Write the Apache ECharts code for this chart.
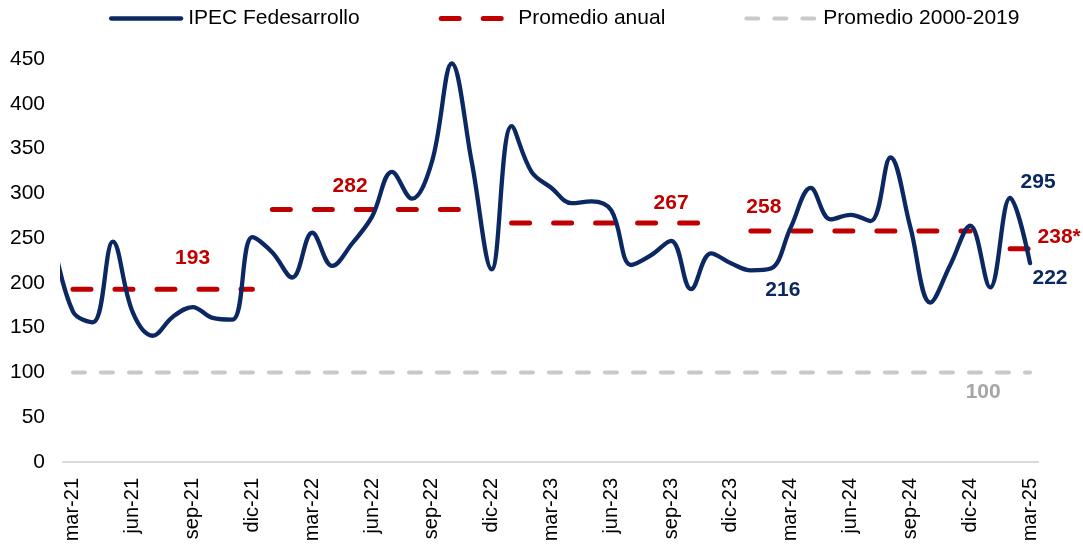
<!DOCTYPE html>
<html>
<head>
<meta charset="utf-8">
<script src="https://cdn.jsdelivr.net/npm/echarts@6/dist/echarts.min.js"></script>
<style>
  html, body { margin: 0; padding: 0; background: #ffffff; }
  #chart { width: 1083px; height: 545px; }
</style>
</head>
<body>
<div id="chart"></div>
<script>
// ---------- DATA ----------
const meses = [
  'feb-21','mar-21','abr-21','may-21','jun-21','jul-21','ago-21','sep-21','oct-21','nov-21','dic-21',
  'ene-22','feb-22','mar-22','abr-22','may-22','jun-22','jul-22','ago-22','sep-22','oct-22','nov-22','dic-22',
  'ene-23','feb-23','mar-23','abr-23','may-23','jun-23','jul-23','ago-23','sep-23','oct-23','nov-23','dic-23',
  'ene-24','feb-24','mar-24','abr-24','may-24','jun-24','jul-24','ago-24','sep-24','oct-24','nov-24','dic-24',
  'ene-25','feb-25','mar-25'
];
const ipec = [
  250, 168, 156, 246, 167, 141, 162, 173, 161, 159, 251,
  234, 206, 256, 219, 244, 274, 324, 294, 335, 445, 335, 215,
  375, 324, 306, 289, 291, 281, 220, 231, 247, 193, 233, 222,
  214, 216, 262, 306, 271, 276, 269, 340, 262, 178, 220, 264,
  195, 295, 222
];
const etiquetasEje = ['mar-21','jun-21','sep-21','dic-21','mar-22','jun-22','sep-22','dic-22',
  'mar-23','jun-23','sep-23','dic-23','mar-24','jun-24','sep-24','dic-24','mar-25'];
const anualValores = [193, 282, 267, 258, 238];
const anualDesde   = ['mar-21', 'ene-22', 'ene-23', 'ene-24', 'feb-25'];
const anualHasta   = ['dic-21', 'nov-22', 'nov-23', 'dic-24', 'mar-25'];
const anualTexto   = ['193', '282', '267', '258', '238*'];
const promedioHistorico = 100;
const historicoDesde = 'mar-21';
const historicoHasta = 'mar-25';

// ---------- STYLE ----------
const NAVY = '#0B2862';
const RED = '#C00000';
const GREY = '#C9C9C9';
const FONT = 'Liberation Sans, Arial, sans-serif';
const CLEAR = 'rgba(0,0,0,0)';

const idx = m => meses.indexOf(m);

// label anchors (styling of annotations)
const anualLabelAnchor = ['sep-21', 'may-22', 'sep-23', 'feb-24', 'mar-25'];
const anualLabelCfg = [
  { position: 'top', distance: 20, offset: [0, 0] },
  { position: 'top', distance: 12, offset: [-2, 0] },
  { position: 'top', distance: 9, offset: [0, 0] },
  { position: 'top', distance: 13, offset: [-7, 0] },
  { position: 'right', distance: 7, offset: [0, -12] }
];

const ipecLabels = {
  'feb-24': { position: 'bottom', distance: 11, offset: [12, 0] },
  'feb-25': { position: 'top', distance: 5, offset: [28, 0] },
  'mar-25': { position: 'bottom', distance: 4, offset: [20, 0] }
};

const hiddenSymbol = { symbol: 'circle', symbolSize: 1, showSymbol: true };

const ipecData = ipec.map((v, i) => {
  const item = { value: [i, v] };
  const cfg = ipecLabels[meses[i]];
  if (cfg) {
    item.label = Object.assign({
      show: true, color: NAVY, fontSize: 21, fontWeight: 'bold', fontFamily: FONT,
      formatter: String(v)
    }, cfg);
  }
  return item;
});

const series = [Object.assign({
  name: 'IPEC Fedesarrollo',
  type: 'line',
  data: ipecData,
  smooth: 0.38,
  clip: true,
  label: { show: false },
  lineStyle: { color: NAVY, width: 4.3, cap: 'round', join: 'round' },
  itemStyle: { color: CLEAR, borderWidth: 0 },
  z: 5
}, hiddenSymbol)];

anualValores.forEach((v, k) => {
  const a = idx(anualDesde[k]), b = idx(anualHasta[k]);
  const d = [];
  for (let i = a; i <= b; i++) {
    const item = { value: [i, v] };
    if (meses[i] === anualLabelAnchor[k]) {
      item.label = Object.assign({
        show: true, color: RED, fontSize: 21, fontWeight: 'bold', fontFamily: FONT,
        formatter: anualTexto[k]
      }, anualLabelCfg[k]);
    }
    d.push(item);
  }
  series.push(Object.assign({
    name: 'Promedio anual',
    type: 'line',
    data: d,
    label: { show: false },
    lineStyle: { color: RED, width: 5, type: [18, 24], cap: 'round' },
    itemStyle: { color: CLEAR, borderWidth: 0 },
    z: 4
  }, hiddenSymbol));
});

const histData = [];
for (let i = idx(historicoDesde); i <= idx(historicoHasta); i++) {
  const item = { value: [i, promedioHistorico] };
  if (meses[i] === 'ene-25') {
    item.label = {
      show: true, position: 'bottom', distance: 9, offset: [-7, 0],
      color: '#A6A6A6', fontSize: 21, fontWeight: 'bold', fontFamily: FONT,
      formatter: String(promedioHistorico)
    };
  }
  histData.push(item);
}
series.push(Object.assign({
  name: 'Promedio 2000-2019',
  type: 'line',
  data: histData,
  label: { show: false },
  lineStyle: { color: GREY, width: 4, type: [12, 16], cap: 'round' },
  itemStyle: { color: CLEAR, borderWidth: 0 },
  z: 3
}, hiddenSymbol));

const chart = echarts.init(document.getElementById('chart'), null, { renderer: 'canvas' });
chart.setOption({
  animation: false,
  backgroundColor: '#ffffff',
  textStyle: { fontFamily: FONT },
  legend: {
    data: ['IPEC Fedesarrollo', 'Promedio anual', 'Promedio 2000-2019'],
    left: 109,
    top: 8,
    padding: 0,
    itemWidth: 70,
    itemHeight: 14,
    itemGap: 79,
    itemStyle: { opacity: 0 },
    lineStyle: { width: 'inherit' },
    textStyle: { fontSize: 21, color: '#000', fontFamily: FONT, padding: [0, 0, 0, 2] }
  },
  grid: { left: 63, right: 45, top: 59, bottom: 83, containLabel: false, outerBoundsMode: 'none' },
  xAxis: {
    type: 'value',
    min: 0.5,
    max: 49.4,
    splitLine: { show: false },
    axisTick: { show: false },
    axisLine: { show: true, lineStyle: { color: '#D9D9D9', width: 2 } },
    axisLabel: {
      customValues: etiquetasEje.map(idx),
      formatter: v => meses[Math.round(v)],
      rotate: 90,
      fontSize: 20,
      color: '#000',
      margin: 16,
      fontFamily: FONT
    }
  },
  yAxis: {
    type: 'value',
    min: 0,
    max: 450,
    interval: 50,
    splitLine: { show: false },
    axisLine: { show: false },
    axisTick: { show: false },
    axisLabel: { fontSize: 21, color: '#000', margin: 18, fontFamily: FONT }
  },
  series: series
});
</script>
</body>
</html>
